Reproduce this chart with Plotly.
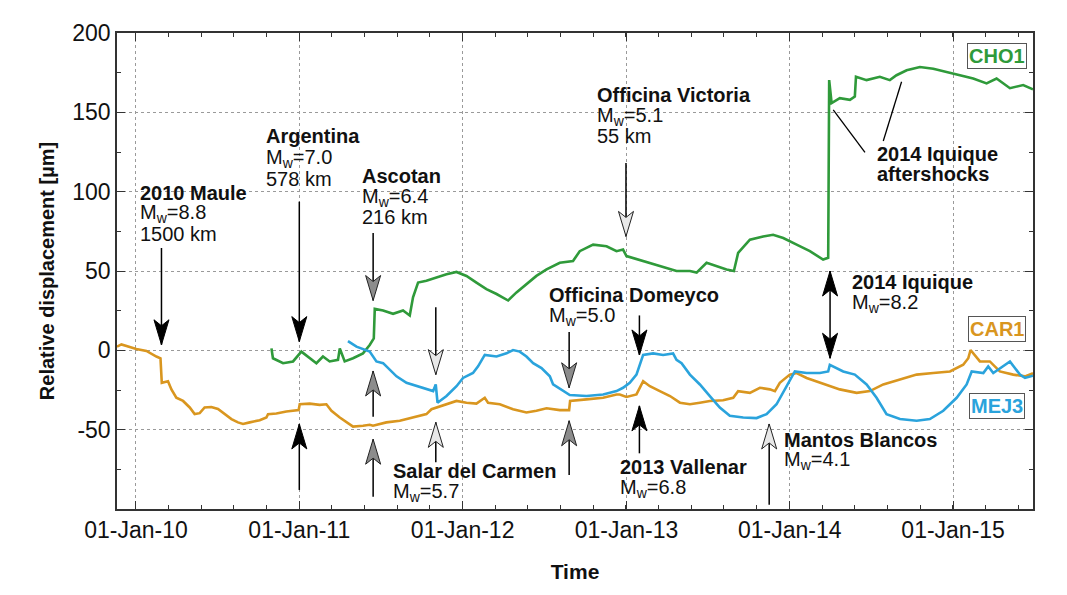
import numpy as np
import pandas as pd
import plotly.graph_objects as go

# values: time as decimal year, displacement in micrometres
car1_t = [2009.884, 2009.911, 2010.002, 2010.064, 2010.125, 2010.150, 2010.158, 2010.196, 2010.217,
          2010.247, 2010.288, 2010.329, 2010.359, 2010.390, 2010.420, 2010.461, 2010.502, 2010.543,
          2010.584, 2010.624, 2010.655, 2010.696, 2010.757, 2010.798, 2010.808, 2010.859, 2010.920,
          2010.995, 2011.002, 2011.063, 2011.124, 2011.165, 2011.196, 2011.247, 2011.288, 2011.328,
          2011.389, 2011.430, 2011.450, 2011.532, 2011.614, 2011.695, 2011.777, 2011.808, 2011.838,
          2011.900, 2011.961, 2012.022, 2012.083, 2012.134, 2012.154, 2012.226, 2012.307, 2012.389,
          2012.450, 2012.512, 2012.593, 2012.650, 2012.656, 2012.756, 2012.858, 2012.940, 2012.960,
          2013.001, 2013.062, 2013.103, 2013.144, 2013.205, 2013.267, 2013.328, 2013.389, 2013.450,
          2013.511, 2013.592, 2013.654, 2013.684, 2013.756, 2013.817, 2013.878, 2013.909, 2013.939,
          2014.000, 2014.042, 2014.103, 2014.164, 2014.225, 2014.306, 2014.409, 2014.490, 2014.572,
          2014.674, 2014.776, 2014.878, 2014.980, 2015.061, 2015.092, 2015.106, 2015.163, 2015.224,
          2015.285, 2015.367, 2015.439, 2015.488]
car1_v = [2.3, 3.7, 0.9, -0.4, -3.9, -5.0, -20.5, -19.5, -24.7,
          -29.9, -31.9, -36.0, -40.2, -39.6, -36.0, -35.7, -37.0, -40.2,
          -43.3, -45.4, -46.4, -45.4, -44.0, -42.3, -40.2, -39.8, -38.6,
          -37.7, -34.0, -33.6, -34.4, -34.0, -38.1, -42.3, -45.4, -48.1,
          -47.5, -46.9, -47.5, -45.4, -44.4, -42.3, -40.2, -37.1, -36.1,
          -33.6, -31.9, -33.0, -33.6, -29.9, -33.0, -34.0, -37.1, -39.2,
          -38.1, -36.5, -37.7, -37.7, -31.9, -30.9, -29.9, -27.8, -27.8,
          -29.4, -27.8, -19.5, -22.6, -25.7, -28.8, -33.0, -34.0, -33.0,
          -31.9, -31.5, -29.9, -25.7, -26.8, -23.6, -24.6, -25.7, -20.5,
          -15.3, -14.3, -17.4, -19.5, -21.5, -24.6, -26.8, -25.7, -21.5,
          -18.4, -15.3, -14.3, -13.3, -9.1, -5.0, 0.2, -7.0, -7.0,
          -13.3, -15.3, -16.4, -14.5]

mej3_t = [2011.297, 2011.349, 2011.430, 2011.471, 2011.512, 2011.553, 2011.594, 2011.655, 2011.716,
          2011.777, 2011.818, 2011.834, 2011.845, 2011.900, 2011.961, 2012.001, 2012.062, 2012.093,
          2012.134, 2012.206, 2012.267, 2012.307, 2012.348, 2012.389, 2012.430, 2012.481, 2012.532,
          2012.552, 2012.613, 2012.654, 2012.756, 2012.858, 2012.940, 2012.980, 2013.021, 2013.062,
          2013.103, 2013.164, 2013.225, 2013.286, 2013.307, 2013.338, 2013.389, 2013.450, 2013.511,
          2013.572, 2013.633, 2013.715, 2013.797, 2013.858, 2013.919, 2013.980, 2014.031, 2014.103,
          2014.184, 2014.235, 2014.245, 2014.327, 2014.398, 2014.470, 2014.531, 2014.592, 2014.674,
          2014.776, 2014.857, 2014.939, 2015.021, 2015.082, 2015.113, 2015.184, 2015.214, 2015.245,
          2015.306, 2015.347, 2015.408, 2015.439, 2015.488]
mej3_v = [5.8, 2.3, -0.8, -7.0, -8.1, -12.2, -16.4, -20.5, -22.6,
          -24.6, -25.7, -21.5, -33.0, -28.8, -22.6, -17.4, -14.3, -10.1,
          -2.9, -3.9, -1.9, 0.2, -0.8, -3.9, -8.1, -11.2, -16.4,
          -21.5, -25.7, -28.2, -28.8, -27.8, -25.7, -23.6, -20.5, -15.3,
          -2.9, -1.9, -2.9, -1.9, -6.0, -8.1, -15.3, -21.5, -28.8,
          -36.1, -41.3, -42.3, -42.7, -40.2, -34.0, -22.6, -13.3, -14.3,
          -14.3, -13.3, -9.1, -13.3, -15.3, -21.5, -29.9, -40.2, -43.3,
          -44.4, -43.3, -38.1, -29.9, -21.5, -13.3, -14.3, -10.1, -14.3,
          -10.1, -7.0, -15.3, -17.4, -16.0]

cho1_t = [2010.829, 2010.838, 2010.900, 2010.961, 2011.012, 2011.063, 2011.104, 2011.144, 2011.185,
          2011.236, 2011.247, 2011.277, 2011.328, 2011.389, 2011.430, 2011.455, 2011.461, 2011.512,
          2011.573, 2011.634, 2011.675, 2011.695, 2011.726, 2011.777, 2011.838, 2011.900, 2011.961,
          2012.022, 2012.083, 2012.144, 2012.206, 2012.277, 2012.328, 2012.389, 2012.450, 2012.512,
          2012.593, 2012.674, 2012.715, 2012.797, 2012.879, 2012.940, 2012.980, 2013.001, 2013.103,
          2013.205, 2013.307, 2013.389, 2013.430, 2013.491, 2013.552, 2013.613, 2013.658, 2013.684,
          2013.756, 2013.837, 2013.898, 2013.960, 2014.042, 2014.123, 2014.204, 2014.235, 2014.241,
          2014.256, 2014.306, 2014.368, 2014.398, 2014.405, 2014.470, 2014.551, 2014.612, 2014.653,
          2014.715, 2014.796, 2014.878, 2014.960, 2015.041, 2015.122, 2015.204, 2015.265, 2015.347,
          2015.428, 2015.488]
cho1_v = [1.2, -5.0, -8.1, -7.0, -0.8, -5.0, -8.1, -3.9, -7.0,
          -6.0, 1.2, -7.0, -5.0, -1.9, 3.4, 7.5, 26.1, 25.1,
          23.0, 25.1, 22.0, 33.4, 42.7, 43.8, 45.9, 47.9, 49.4,
          46.9, 42.7, 38.6, 35.5, 31.4, 36.5, 41.7, 46.9, 51.0,
          55.2, 56.3, 62.5, 66.6, 65.6, 62.5, 63.5, 59.4, 56.3,
          53.1, 50.0, 50.0, 49.0, 55.2, 53.1, 51.0, 50.0, 61.4,
          69.7, 71.8, 72.8, 70.8, 66.6, 62.5, 57.2, 58.3, 170.3,
          155.8, 158.9, 157.9, 160.0, 172.4, 170.3, 172.4, 170.3, 173.4,
          176.5, 178.6, 177.5, 175.5, 173.4, 171.3, 168.2, 171.3, 165.2,
          167.2, 164.5]

year_ticks = ['2010-01-01', '2011-01-01', '2012-01-01', '2013-01-01', '2014-01-01', '2015-01-01']
year_labels = ['01-Jan-10', '01-Jan-11', '01-Jan-12', '01-Jan-13', '01-Jan-14', '01-Jan-15']
y_ticks = [-50, 0, 50, 100, 150, 200]


def to_date(t):
    t = np.asarray(t, dtype=float)
    return pd.Timestamp('2010-01-01') + pd.to_timedelta((t - 2010) * 365.25, unit='D')


def d(t):
    return to_date([t])[0].strftime('%Y-%m-%d %H:%M')


GREEN = '#2f9a3a'
ORANGE = '#d9961f'
BLUE = '#2aa3dc'

fig = go.Figure()
for t, v, c in [(car1_t, car1_v, ORANGE), (cho1_t, cho1_v, GREEN), (mej3_t, mej3_v, BLUE)]:
    fig.add_trace(go.Scatter(x=to_date(t), y=v, mode='lines',
                             line=dict(color=c, width=2.6), showlegend=False, hoverinfo='skip'))

shapes = []
FILL = {'black': ('black', 'black'), 'gray': ('#8c8c8c', '#222222'), 'light': ('#e8e8e8', '#222222')}


def head(date, tip, up, style):
    s = -1 if up else 1
    fill, edge = FILL[style]
    return dict(type='path', xref='x', yref='y', xsizemode='pixel', ysizemode='pixel',
                xanchor=date, yanchor=tip,
                path=f'M0,0 L-7.5,{25 * s} L0,{19 * s} L7.5,{25 * s} Z',
                fillcolor=fill, line=dict(color=edge, width=1))


def arrow(date, tail, tip, style):
    up = tip > tail
    shapes.append(dict(type='line', xref='x', yref='y', x0=date, x1=date, y0=tail, y1=tip,
                       line=dict(color='black', width=1.5)))
    shapes.append(head(date, tip, up, style))


arrow('2010-02-27', 64.5, 3.5, 'black')
arrow('2011-01-01', 93.7, 5.5, 'black')
arrow('2011-01-01', -88, -46.4, 'black')
arrow('2011-06-15', 73.9, 31.4, 'gray')
arrow('2011-06-15', -41.9, -13, 'gray')
arrow('2011-06-15', -92.3, -56, 'gray')
arrow('2011-11-02', 27.2, -15.3, 'light')
arrow('2011-11-02', -70.5, -45.4, 'light')
arrow('2012-08-26', 11.6, -23.6, 'gray')
arrow('2012-08-26', -78.6, -44.4, 'gray')
arrow('2012-12-31', 118, 71.8, 'light')
arrow('2013-01-30', 22, -2.9, 'black')
arrow('2013-01-30', -64.9, -35, 'black')
arrow('2013-11-16', -97.3, -46.4, 'light')
# 2014 Iquique double arrow
shapes.append(dict(type='line', xref='x', yref='y', x0='2014-04-01', x1='2014-04-01', y0=-5, y1=50,
                   line=dict(color='black', width=1.5)))
shapes.append(head('2014-04-01', 50, True, 'black'))
shapes.append(head('2014-04-01', -5, False, 'black'))
# aftershock pointers
shapes.append(dict(type='line', xref='x', yref='y', x0=d(2014.266), y0=151.6, x1=d(2014.460), y1=124.7,
                   line=dict(color='black', width=1.3)))
shapes.append(dict(type='line', xref='x', yref='y', x0=d(2014.684), y0=169.3, x1=d(2014.572), y1=131.9,
                   line=dict(color='black', width=1.3)))

FONT = 'Liberation Sans, Arial, sans-serif'
ann = []


def label(t, y, text, bold=False):
    ann.append(dict(x=d(t), y=y, xref='x', yref='y', xanchor='left', yanchor='middle',
                    text=f'<b>{text}</b>' if bold else text, showarrow=False,
                    font=dict(family=FONT, size=20, color='#111')))


MW = 'M<sub>w</sub>='
label(2010.010, 99.4, '2010 Maule', True)
label(2010.010, 86.3, MW + '8.8')
label(2010.010, 73.2, '1500 km')
label(2010.782, 134.8, 'Argentina', True)
label(2010.782, 121.2, MW + '7.0')
label(2010.782, 108.1, '578 km')
label(2011.369, 110.0, 'Ascotan', True)
label(2011.369, 96.3, MW + '6.4')
label(2011.369, 83.8, '216 km')
label(2012.807, 160.9, 'Officina Victoria', True)
label(2012.807, 147.2, MW + '5.1')
label(2012.807, 134.8, '55 km')
label(2012.513, 34.7, 'Officina Domeyco', True)
label(2012.513, 21.6, MW + '5.0')
label(2014.368, 42.8, '2014 Iquique', True)
label(2014.368, 29.7, MW + '8.2')
label(2014.521, 123.6, '2014 Iquique', True)
label(2014.521, 111.2, 'aftershocks', True)
label(2011.559, -76.1, 'Salar del Carmen', True)
label(2011.559, -89.8, MW + '5.7')
label(2012.948, -73.6, '2013 Vallenar', True)
label(2012.948, -87.3, MW + '6.8')
label(2013.952, -56.2, 'Mantos Blancos', True)
label(2013.952, -69.3, MW + '4.1')

for name, y, c in [('CHO1', 185.2, GREEN), ('CAR1', 13.7, ORANGE), ('MEJ3', -35.0, BLUE)]:
    ann.append(dict(x=d(2015.267), y=y, xref='x', yref='y', xanchor='center', yanchor='middle',
                    text=f'<b>{name}</b>', showarrow=False, bgcolor='white',
                    bordercolor='#555', borderwidth=1, borderpad=1,
                    font=dict(family=FONT, size=20, color=c)))

axis_common = dict(showline=True, linecolor='#333', linewidth=1.5, mirror='allticks',
                   ticks='inside', ticklen=8, tickcolor='#333', tickwidth=1.2,
                   showgrid=True, gridcolor='#9a9a9a', griddash='dot', gridwidth=1,
                   zeroline=False, tickfont=dict(family=FONT, size=23, color='#111'))

fig.update_layout(
    width=1059, height=587,
    margin=dict(l=109, r=34, t=19, b=86),
    paper_bgcolor='white', plot_bgcolor='white',
    shapes=shapes, annotations=ann, showlegend=False,
    xaxis=dict(type='date', range=[d(2009.884), d(2015.488)],
               tickmode='array', tickvals=year_ticks, ticktext=year_labels,
               minor=dict(tickmode='linear', tick0='2010-01-01', dtick=73 * 86400000,
                          ticks='inside', ticklen=4, tickcolor='#333', showgrid=False),
               title=dict(text='<b>Time</b>', standoff=22,
                          font=dict(family=FONT, size=21, color='#111')),
               **axis_common),
    yaxis=dict(range=[-100, 200], tickmode='array', tickvals=y_ticks,
               ticktext=[str(v) for v in y_ticks],
               minor=dict(tickmode='linear', tick0=0, dtick=25,
                          ticks='inside', ticklen=4, tickcolor='#333', showgrid=False),
               title=dict(text='<b>Relative displacement [µm]</b>', standoff=12,
                          font=dict(family=FONT, size=20, color='#111')),
               **axis_common),
)

fig.write_html('out.html')
